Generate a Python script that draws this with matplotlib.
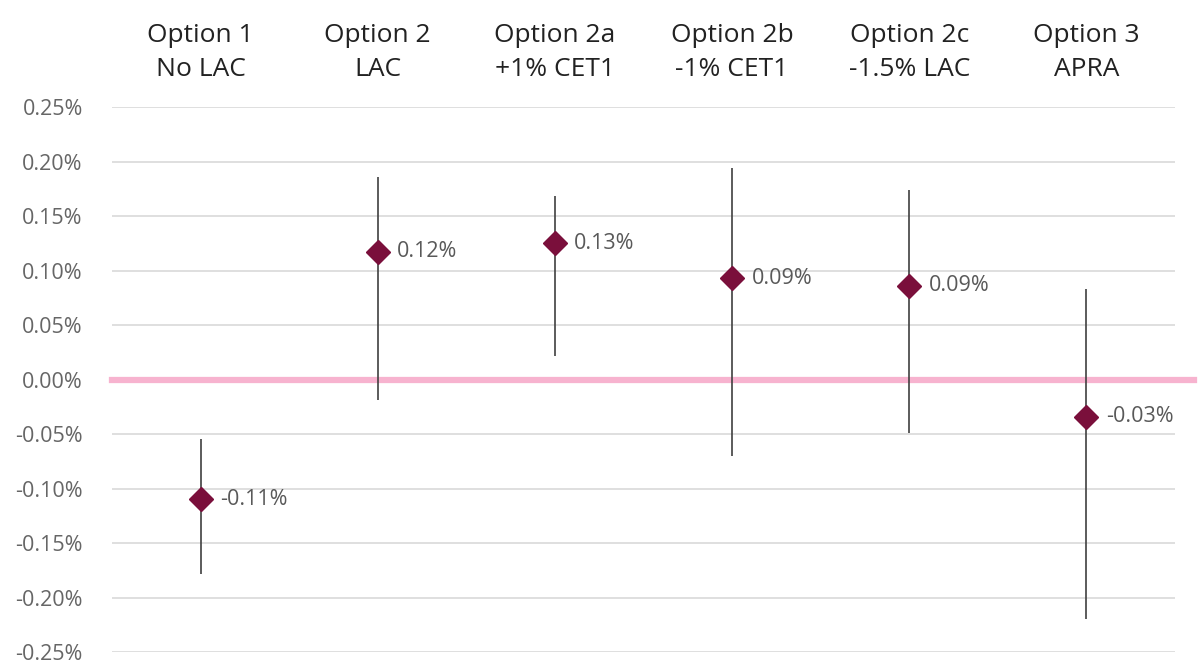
import matplotlib.pyplot as plt
import numpy as np
from matplotlib.ticker import FuncFormatter

plt.rcParams['font.family'] = ['Open Sans', 'DejaVu Sans']

# Options compared, with central estimate and range (in %)
options = ['Option 1\nNo LAC', 'Option 2\nLAC', 'Option 2a\n+1% CET1',
           'Option 2b\n-1% CET1', 'Option 2c\n-1.5% LAC', 'Option 3\nAPRA']
central = [-0.11, 0.117, 0.125, 0.093, 0.086, -0.034]
labels = ['-0.11%', '0.12%', '0.13%', '0.09%', '0.09%', '-0.03%']
range_high = [-0.055, 0.186, 0.168, 0.194, 0.174, 0.083]
range_low = [-0.178, -0.019, 0.022, -0.070, -0.049, -0.220]


def pct(v, _):
    v = round(v, 4)
    if v == 0:
        v = 0.0
    return f'{v:.2f}%'


fig = plt.figure(figsize=(12.03, 6.64), dpi=100)
ax = fig.add_axes([112 / 1203, 1 - 652 / 664, (1175 - 112) / 1203, (652 - 107) / 664])

x = np.arange(len(options))
central = np.array(central)
yerr = [central - np.array(range_low), np.array(range_high) - central]

ax.set_xlim(-0.5, len(options) - 0.5)
ax.set_ylim(-0.25, 0.25)
ax.set_yticks(np.arange(-0.25, 0.2501, 0.05))
ax.yaxis.set_major_formatter(FuncFormatter(pct))
ax.grid(True, axis='y', color='#d9d9d9', linewidth=1.2)
ax.set_axisbelow(True)

# highlighted zero line, running a little past the plot area
ax.axhline(0, xmin=0, xmax=1.018, color='#f7b3cf', linewidth=4.5, clip_on=False, zorder=1)

ax.errorbar(x, central, yerr=yerr, fmt='none', ecolor='#404040',
            elinewidth=1.2, capsize=0, zorder=2)
ax.plot(x, central, linestyle='none', marker='D', markersize=12,
        color='#7a0f3b', zorder=3)

for xi, yi, lab in zip(x, central, labels):
    ax.annotate(lab, (xi, yi), xytext=(14, 0), textcoords='offset points',
                ha='left', va='center', fontsize=15.5, color='#595959')

ax.xaxis.tick_top()
ax.set_xticks(x)
ax.set_xticklabels(options, fontsize=19, color='#222222', linespacing=1.45)
ax.tick_params(axis='x', length=0, pad=18)
ax.tick_params(axis='y', length=0, labelsize=15.5, labelcolor='#666666', pad=21)

for spine in ax.spines.values():
    spine.set_visible(False)

fig.savefig('out.png', dpi=100, facecolor='white')
